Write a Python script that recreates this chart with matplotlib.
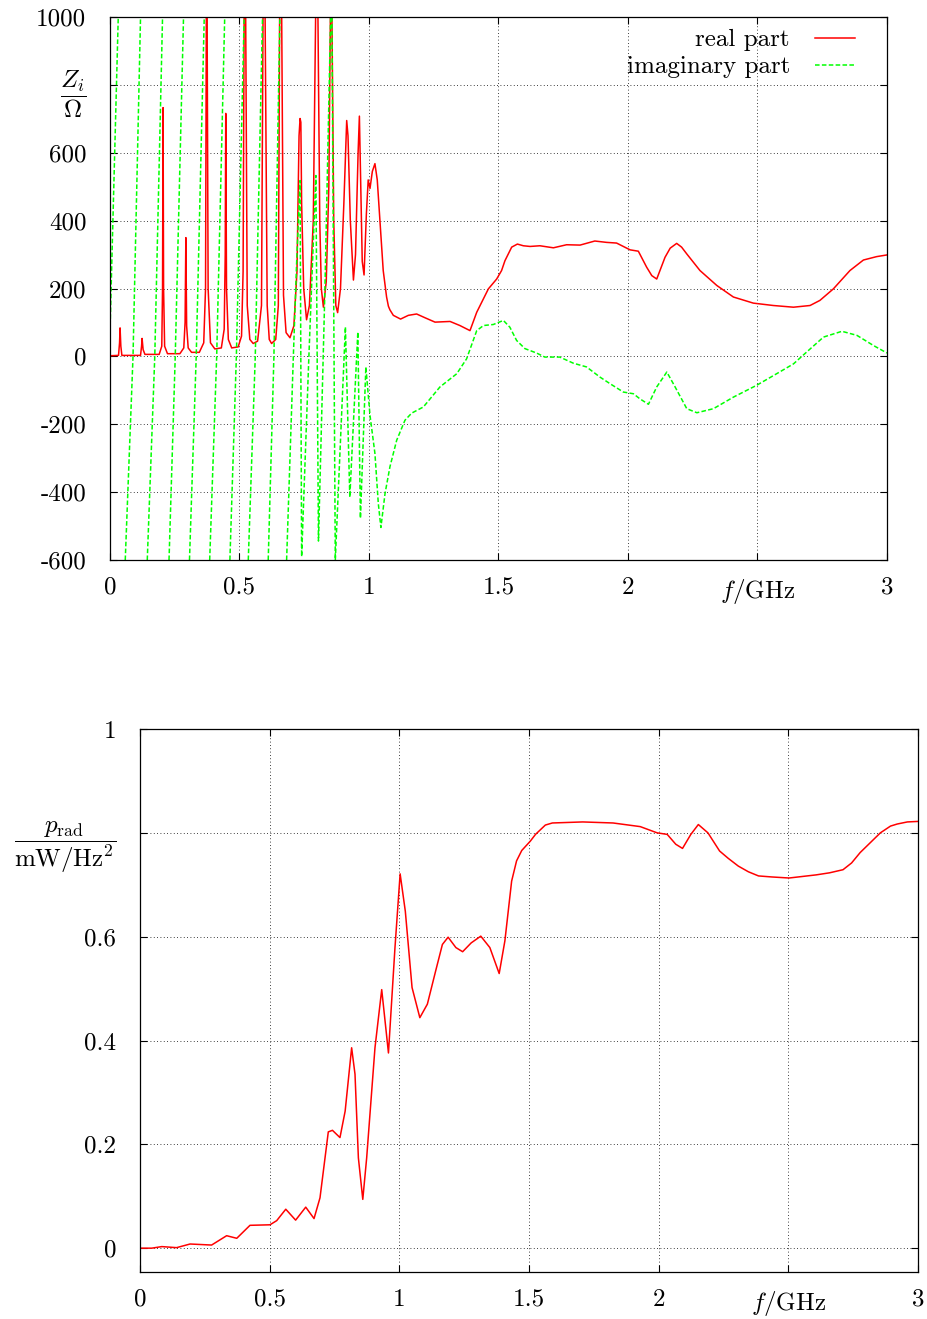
import numpy as np
import matplotlib
matplotlib.use('Agg')
import matplotlib.pyplot as plt

nan = np.nan

# input impedance, real part (Ohm) vs frequency (GHz)
real_f = [0.000, 0.033, 0.037, 0.039, 0.042, 0.046, 0.118, 0.122, 0.124, 0.128, 0.135,
          0.190, 0.200, 0.203, 0.205, 0.207, 0.211, 0.222, 0.270, 0.285, 0.290, 0.293,
          0.296, 0.302, 0.315, 0.345, 0.362, 0.369, 0.372, 0.375, 0.379, 0.388, 0.405,
          0.430, 0.441, 0.445, 0.447, 0.450, 0.457, 0.470, 0.495, 0.508, 0.514, 0.518,
          0.524, 0.530, 0.540, 0.553, 0.570, 0.585, 0.591, 0.599, 0.607, 0.615, 0.624,
          0.640, 0.650, 0.655, 0.663, 0.670, 0.680, 0.695, 0.710, 0.722, 0.730, 0.734,
          0.737, 0.740, 0.748, 0.759, 0.770, 0.785, 0.794, 0.803, 0.810, 0.816, 0.824,
          0.835, 0.845, 0.851, 0.857, 0.864, 0.872, 0.879, 0.890, 0.903, 0.914, 0.919,
          0.928, 0.940, 0.948, 0.958, 0.963, 0.967, 0.974, 0.981, 0.990, 0.997, 1.004,
          1.013, 1.023, 1.032, 1.043, 1.055, 1.068, 1.075, 1.081, 1.094, 1.122, 1.152,
          1.184, 1.216, 1.255, 1.313, 1.351, 1.390, 1.416, 1.448, 1.461, 1.493, 1.512,
          1.525, 1.551, 1.573, 1.596, 1.622, 1.660, 1.712, 1.763, 1.815, 1.872, 1.917,
          1.956, 2.008, 2.040, 2.072, 2.092, 2.111, 2.143, 2.163, 2.188, 2.207, 2.227,
          2.278, 2.343, 2.407, 2.484, 2.561, 2.639, 2.703, 2.741, 2.793, 2.857, 2.909,
          2.960, 3.000]
real_v = [2, 3, 40, 84, 30, 3, 3, 30, 53, 20, 6,
          6, 30, 200, 733, 200, 30, 8, 8, 25, 100, 350,
          90, 25, 12, 12, 40, 200, 1000, 1000, 200, 40, 22,
          25, 80, 300, 716, 200, 50, 25, 28, 60, 250, 1000,
          1000, 150, 50, 38, 45, 150, 1000, 1000, 150, 50, 38,
          50, 150, 1000, 1000, 180, 70, 55, 90, 250, 650, 701,
          690, 450, 200, 108, 150, 400, 1000, 1000, 400, 200, 145,
          220, 500, 1000, 1000, 400, 150, 129, 200, 450, 695, 650,
          400, 225, 300, 600, 708, 550, 280, 240, 420, 520, 495,
          545, 568, 520, 390, 253, 175, 148, 137, 121, 110, 121,
          125, 114, 101, 103, 91, 76, 130, 179, 199, 228, 253,
          282, 322, 331, 326, 324, 326, 320, 329, 328, 340, 336,
          334, 314, 310, 263, 238, 228, 292, 319, 333, 322, 302,
          253, 209, 175, 157, 150, 145, 150, 165, 199, 253, 284,
          294, 299]

# imaginary part; nan marks where the curve leaves the plotted range
imag_f = [0.000, 0.032, nan,
          0.059, 0.089, 0.118, nan,
          0.144, 0.173, 0.203, nan,
          0.228, 0.252, 0.284, nan,
          0.307, 0.333, 0.364, nan,
          0.385, 0.412, 0.443, nan,
          0.463, 0.488, 0.518, nan,
          0.534, 0.561, 0.589, nan,
          0.611, 0.633, 0.656, nan,
          0.682, 0.708, 0.721, 0.734, 0.740, 0.768, 0.795, 0.805, 0.830, 0.852, nan,
          0.857, 0.870, 0.909, 0.926, 0.957, 0.967, 0.988, 1.004, 1.023, 1.036,
          1.046, 1.062, 1.081, 1.107, 1.139, 1.165, 1.210, 1.274, 1.339, 1.377,
          1.416, 1.442, 1.480, 1.519, 1.544, 1.570, 1.602, 1.647, 1.679, 1.737,
          1.789, 1.840, 1.892, 1.930, 1.982, 2.021, 2.046, 2.079, 2.111, 2.150,
          2.182, 2.227, 2.266, 2.330, 2.407, 2.497, 2.574, 2.639, 2.690, 2.755,
          2.826, 2.884, 2.948, 3.000]
imag_v = [70, 1000, nan,
          -600, 0, 1000, nan,
          -600, 0, 1000, nan,
          -600, 0, 1000, nan,
          -600, 0, 1000, nan,
          -600, 0, 1000, nan,
          -600, 0, 1000, nan,
          -600, 0, 1000, nan,
          -600, 0, 1000, nan,
          -600, 0, 282, 518, -590, 0, 533, -544, 200, 1000, nan,
          1000, -600, 87, -415, 72, -477, -31, -174, -286, -433,
          -504, -404, -325, -247, -188, -167, -149, -90, -51, -7,
          76, 91, 94, 106, 86, 47, 23, 10, -2, -2,
          -20, -31, -61, -80, -105, -110, -125, -141, -90, -46,
          -90, -154, -166, -154, -120, -85, -51, -22, 13, 57,
          74, 62, 32, 10]

# radiated power spectrum
prad_f = [0.000, 0.045, 0.084, 0.141, 0.193, 0.276, 0.334, 0.373, 0.424, 0.501,
          0.527, 0.562, 0.600, 0.639, 0.671, 0.694, 0.726, 0.742, 0.771, 0.791,
          0.816, 0.829, 0.842, 0.859, 0.874, 0.906, 0.932, 0.958, 0.983, 1.003,
          1.023, 1.049, 1.079, 1.108, 1.140, 1.166, 1.188, 1.218, 1.244, 1.277,
          1.314, 1.349, 1.385, 1.407, 1.433, 1.452, 1.472, 1.505, 1.525, 1.544,
          1.563, 1.590, 1.707, 1.824, 1.929, 1.994, 2.033, 2.066, 2.092, 2.124,
          2.153, 2.190, 2.235, 2.268, 2.307, 2.346, 2.385, 2.437, 2.503, 2.607,
          2.659, 2.711, 2.744, 2.777, 2.816, 2.855, 2.894, 2.920, 2.959, 3.000]
prad_v = [0.000, 0.000, 0.003, 0.001, 0.008, 0.006, 0.024, 0.019, 0.044, 0.045,
          0.053, 0.075, 0.054, 0.079, 0.057, 0.097, 0.224, 0.227, 0.213, 0.264,
          0.386, 0.335, 0.174, 0.094, 0.174, 0.386, 0.498, 0.376, 0.578, 0.721,
          0.649, 0.502, 0.444, 0.470, 0.534, 0.585, 0.599, 0.579, 0.571, 0.588,
          0.601, 0.579, 0.529, 0.592, 0.707, 0.746, 0.766, 0.784, 0.797, 0.806,
          0.815, 0.819, 0.821, 0.819, 0.812, 0.800, 0.797, 0.778, 0.770, 0.797,
          0.816, 0.800, 0.765, 0.751, 0.736, 0.725, 0.717, 0.715, 0.713, 0.719,
          0.723, 0.729, 0.742, 0.762, 0.781, 0.800, 0.813, 0.817, 0.821, 0.822]

freq_ticks = [0, 0.5, 1, 1.5, 2, 2.5, 3]
freq_labels = ['0', '0.5', '1', '1.5', '2', r'$f/\mathrm{GHz}$', '3']
z_ticks = [-600, -400, -200, 0, 200, 400, 600, 800, 1000]
z_labels = ['-600', '-400', '-200', '0', '200', '400', '600', r'$\dfrac{Z_i}{\Omega}$', '1000']
p_ticks = [0, 0.2, 0.4, 0.6, 0.8, 1]
p_labels = ['0', '0.2', '0.4', '0.6', r'$\dfrac{p_{\mathrm{rad}}}{\mathrm{mW/Hz}^2}$', '1']


def style_axes(ax):
    ax.tick_params(direction='in', top=True, right=True, length=5, width=0.8, labelsize=18)
    ax.tick_params(axis='y', pad=17)
    ax.tick_params(axis='x', pad=12)
    ax.grid(True, color='black', lw=0.6, linestyle=(0, (1, 3)))
    for s in ax.spines.values():
        s.set_linewidth(0.9)


def plot_results():
    plt.rcParams['font.family'] = 'cmr10'
    plt.rcParams['mathtext.fontset'] = 'cm'
    plt.rcParams['axes.unicode_minus'] = False
    plt.rcParams['axes.formatter.use_mathtext'] = True

    fig = plt.figure(figsize=(9.28, 13.19), dpi=100)

    # impedance
    ax1 = fig.add_axes([0.1185, 0.5754, 0.8373, 0.4117])
    ax1.plot(real_f, real_v, color='#ff0000', lw=1.1, label='real part')
    ax1.plot(imag_f, imag_v, color='#00ff00', lw=1.1, linestyle=(0, (3, 1.5)), label='imaginary part')
    ax1.set_xlim(0, 3)
    ax1.set_ylim(-600, 1000)
    ax1.set_xticks(freq_ticks)
    ax1.set_xticklabels(freq_labels)
    ax1.set_yticks(z_ticks)
    ax1.set_yticklabels(z_labels)
    style_axes(ax1)
    ax1.legend(loc='upper right', bbox_to_anchor=(0.9588, 0.978), frameon=False, markerfirst=False,
               handlelength=1.6, handletextpad=1.0, labelspacing=0.18, borderpad=0,
               borderaxespad=0, fontsize=18)

    # radiated power
    ax2 = fig.add_axes([0.1509, 0.0356, 0.8383, 0.4117])
    ax2.plot(prad_f, prad_v, color='#ff0000', lw=1.1)
    ax2.set_xlim(0, 3)
    ax2.set_ylim(-0.046, 1)
    ax2.set_xticks(freq_ticks)
    ax2.set_xticklabels(freq_labels)
    ax2.set_yticks(p_ticks)
    ax2.set_yticklabels(p_labels)
    style_axes(ax2)

    fig.savefig('out.png', dpi=100)


def main():
    plot_results()


if __name__ == "__main__":
    main()
